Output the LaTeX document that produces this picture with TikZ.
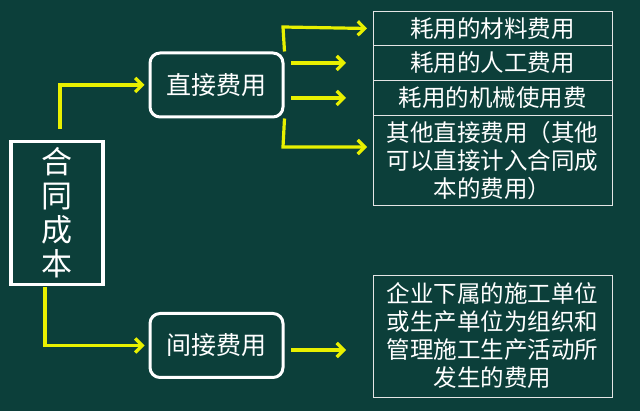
\documentclass[tikz,border=0pt]{standalone}
\usepackage{fontspec}
\setmainfont{Noto Sans CJK SC}
\usetikzlibrary{arrows.meta}
\definecolor{bg}{HTML}{0C3F3A}
\definecolor{ylw}{HTML}{E8F000}
\begin{document}
\begin{tikzpicture}[x=1pt,y=-1pt,
  arr/.style={ylw,line width=3.2pt,-{Straight Barb[length=7pt,width=14pt,line width=3.2pt]}},
  cell/.style={draw=white!80!gray,line width=0.7pt,text=white,font=\fontsize{23.5}{28}\selectfont,align=center,inner sep=0pt},
  rbox/.style={draw=white,line width=3pt,rounded corners=10pt,text=white,font=\fontsize{25}{28}\selectfont,minimum width=133pt,minimum height=64pt}]
\fill[bg] (0,0) rectangle (640,411);
\useasboundingbox (0,0) rectangle (640,411);
\node[draw=white,line width=3.5pt,minimum width=92pt,minimum height=143pt,text=white,font=\fontsize{31}{34}\selectfont,align=center] (hc) at (57,213) {合\\同\\成\\本};
\node[rbox] (zj) at (216.5,85) {直接费用};
\node[rbox] (jj) at (216.5,345.5) {间接费用};
\node[cell,minimum width=239pt,minimum height=34pt] (c1) at (492.5,28.5) {耗用的材料费用};
\node[cell,minimum width=239pt,minimum height=35pt] (c2) at (492.5,63) {耗用的人工费用};
\node[cell,minimum width=239pt,minimum height=35pt] (c3) at (492.5,98) {耗用的机械使用费};
\node[cell,minimum width=239pt,minimum height=90pt] (c4) at (492.5,160.5) {其他直接费用（其他\\可以直接计入合同成\\本的费用）};
\node[cell,minimum width=239pt,minimum height=122pt] (c5) at (492.5,336) {企业下属的施工单位\\或生产单位为组织和\\管理施工生产活动所\\发生的费用};
\coordinate (a1) at (60,129);
\draw[arr] (a1) |- ([xshift=-4pt]zj.west);
\coordinate (a2) at (45,287);
\draw[arr] (a2) |- ([xshift=-4pt]jj.west);
\draw[arr] (zj.north east) -- (283,27) -- (c1.west -| 367,27);
\draw[arr] (zj.south east) -- (283,147) -- (367,147);
\draw[arr] (291,63) -- (346,63);
\draw[arr] (291,98) -- (346,98);
\draw[arr] (291,350) -- (346,350);
\end{tikzpicture}
\end{document}
